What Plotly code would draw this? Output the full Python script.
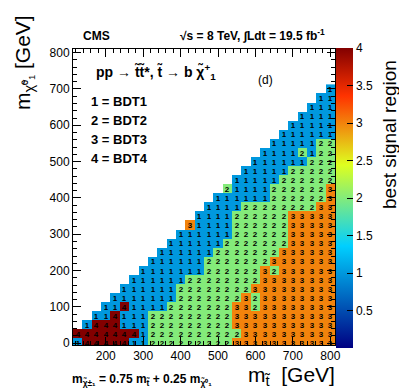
import plotly.graph_objects as go

# stop mass bin centres (GeV)
m_stop = [125, 150, 175, 200, 225, 250, 275, 300, 325, 350, 375, 400, 425, 450,
          475, 500, 525, 550, 575, 600, 625, 650, 675, 700, 725, 750, 775, 800]
# LSP mass bin centres (GeV)
m_lsp = [0, 25, 50, 75, 100, 125, 150, 175, 200, 225, 250, 275, 300, 325, 350,
         375, 400, 425, 450, 475, 500, 525, 550, 575, 600, 625, 650, 675, 700]

# best signal region per bin, one string per LSP row (bottom to top), '.' = no point
best_region_rows = [
    "1444441122222222233333333333",
    "4444444122222222223333333333",
    ".144411122222222233333333333",
    "..11411122222222233333333333",
    "...1141111222222233233333333",
    "....111111122222223233333333",
    ".....11111122222222333333333",
    "......1111112222222233333333",
    ".......111111122222232333333",
    "........11111122222223333333",
    ".........1111112222222333333",
    "..........111111222222233333",
    "...........11111122222233333",
    "............3111122222233333",
    ".............111122222233333",
    "..............11112222222233",
    "...............1111112222223",
    "................211112222223",
    ".................11111222222",
    "..................1111122222",
    "...................111111222",
    "....................11112122",
    ".....................1111122",
    "......................111111",
    ".......................11111",
    "........................1111",
    ".........................111",
    "..........................11",
    "...........................1",
]
assert all(len(r) == len(m_stop) for r in best_region_rows)

z = [[int(ch) if ch != "." else None for ch in row] for row in best_region_rows]
labels = [[ch if ch != "." else "" for ch in row] for row in best_region_rows]

# ROOT "pretty" palette
palette = [[0.0, "rgb(0,0,130)"], [0.34, "rgb(0,207,255)"], [0.61, "rgb(222,255,31)"],
           [0.84, "rgb(255,51,0)"], [1.0, "rgb(130,0,0)"]]
cbar_ticks = [0.5, 1, 1.5, 2, 2.5, 3, 3.5, 4]

FONT = "Liberation Sans, Arial, Helvetica, sans-serif"
L, R, T, B = 65, 327, 41, 337
W, H = 407, 391


def px(x):
    return (x - L) / (R - L)


def py(y):
    return (B - y) / (B - T)


fig = go.Figure(go.Heatmap(
    x=m_stop, y=m_lsp, z=z, text=labels, texttemplate="%{text}",
    textfont=dict(size=8, color="black", family=FONT, weight="bold"),
    colorscale=palette, zmin=0, zmax=4, hoverongaps=False,
    colorbar=dict(
        x=px(328), xanchor="left", xpad=0, ypad=0,
        y=py(190), yanchor="middle",
        thickness=17, thicknessmode="pixels", len=300, lenmode="pixels",
        outlinewidth=0, tickvals=cbar_ticks, ticktext=[f"{v:g}" for v in cbar_ticks],
        ticks="inside", ticklen=6, tickcolor="black",
        tickfont=dict(size=12, family=FONT, color="black"),
    ),
))

axis_common = dict(
    ticks="inside", ticklen=8, tickcolor="black", mirror="allticks",
    showline=True, linecolor="black", linewidth=1, showgrid=False, zeroline=False,
    tickfont=dict(size=12, family=FONT, color="black"),
    minor=dict(ticks="inside", ticklen=4, dtick=20, tick0=0, tickcolor="black", showgrid=False),
)

fig.update_layout(
    width=W, height=H, autosize=False,
    margin=dict(l=L, r=W - R, t=T, b=H - B, pad=0),
    paper_bgcolor="white", plot_bgcolor="white",
    font=dict(family=FONT, color="black"),
    xaxis=dict(range=[112.5, 812.5], tickvals=[200, 300, 400, 500, 600, 700, 800], **axis_common),
    yaxis=dict(range=[-5, 810], tick0=0, dtick=100, **axis_common),
)

ann = [
    dict(text="<b>CMS</b>", x=px(73), y=py(28), xanchor="left", yanchor="middle", font=dict(size=12)),
    dict(text="<b>√s = 8 TeV, ∫Ldt = 19.5 fb<sup>-1</sup></b>", x=px(170), y=py(27),
         xanchor="left", yanchor="middle", font=dict(size=12)),
    dict(text="<b>pp → t̃t̃*, t̃ → b χ̃<sup>+</sup><sub>1</sub></b>", x=px(86), y=py(64),
         xanchor="left", yanchor="middle", font=dict(size=14)),
    dict(text="(d)", x=px(248), y=py(72), xanchor="left", yanchor="middle", font=dict(size=12)),
    dict(text="<b>1 = BDT1</b>", x=px(81), y=py(93), xanchor="left", yanchor="middle", font=dict(size=13)),
    dict(text="<b>2 = BDT2</b>", x=px(81), y=py(112), xanchor="left", yanchor="middle", font=dict(size=13)),
    dict(text="<b>3 = BDT3</b>", x=px(81), y=py(131), xanchor="left", yanchor="middle", font=dict(size=13)),
    dict(text="<b>4 = BDT4</b>", x=px(81), y=py(150), xanchor="left", yanchor="middle", font=dict(size=13)),
    dict(text="<b>m<sub>χ̃±₁</sub> = 0.75 m<sub>t̃</sub> + 0.25 m<sub>χ̃⁰₁</sub></b>", x=px(62), y=py(372),
         xanchor="left", yanchor="middle", font=dict(size=12)),
    dict(text="m<sub>t̃</sub>  [GeV]", x=px(329), y=py(368), xanchor="right", yanchor="middle",
         font=dict(size=21)),
    dict(text="m<sub>χ̃⁰₁</sub> [GeV]", x=px(16), y=py(55), xanchor="center", yanchor="middle",
         textangle=-90, font=dict(size=21)),
    dict(text="best signal region", x=px(381), y=py(127), xanchor="center", yanchor="middle",
         textangle=-90, font=dict(size=19)),
]
for a in ann:
    a.update(xref="paper", yref="paper", showarrow=False)
fig.update_layout(annotations=ann)

fig.write_html("out.html")
